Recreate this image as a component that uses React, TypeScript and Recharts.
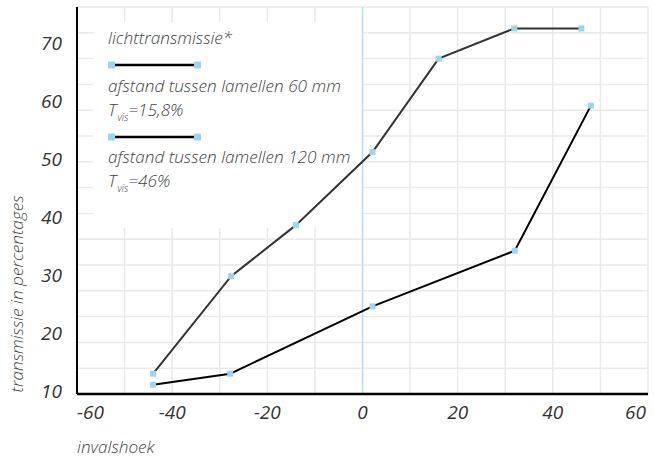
import React from "react";
import {
  CartesianGrid,
  Legend,
  Line,
  LineChart,
  ReferenceArea,
  ReferenceLine,
  XAxis,
  YAxis,
} from "recharts";

// invalshoek (graden) en lichttransmissie (%) per lamelafstand
const angles60 = [-44.0, -27.6, -14.0, 2.1, 16.0, 31.9, 46.0];
const trans60 = [13.5, 30.3, 39.1, 51.7, 67.8, 73.0, 73.0];
const angles120 = [-44.0, -27.8, 2.1, 32.0, 48.0];
const trans120 = [11.6, 13.5, 25.1, 34.7, 59.7];

const xTicks = [-60, -40, -20, 0, 20, 40, 60];
const yTicks = [10, 20, 30, 40, 50, 60, 70];
const xGridTicks = [-60, -50, -40, -30, -20, -10, 0, 10, 20, 30, 40, 50, 60];
const X_MIN = -60;
const X_MAX = 60;
const Y_MIN = 10;
const Y_MAX = 76.7;
const Y_GRID_STEPS = 15;

const legendTitle = "lichttransmissie*";
const seriesNames = ["afstand tussen lamellen 60 mm", "afstand tussen lamellen 120 mm"];
const tvisValues = ["=15,8%", "=46%"];

const xTitle = "invalshoek";
const yTitle = "transmissie in percentages";

const data60 = angles60.map((x, i) => ({ x, y: trans60[i] }));
const data120 = angles120.map((x, i) => ({ x, y: trans120[i] }));

const FONT = "'Open Sans', Lato, sans-serif";
const MARKER = "#9fd3f1";

const SquareDot = (props: any) => {
  const { cx, cy } = props;
  if (cx == null || cy == null) return null;
  return <rect x={cx - 3} y={cy - 3} width={6} height={6} fill={MARKER} />;
};

const tickText = {
  fontFamily: FONT,
  fontStyle: "italic",
  fontWeight: 400,
  fontSize: 19,
  fill: "#333",
};

const XTick = ({ x, y, payload }: any) => {
  const v = payload.value;
  const anchor = v === X_MIN ? "start" : v === X_MAX ? "end" : "middle";
  return (
    <text x={x} y={y + 25} textAnchor={anchor} {...tickText}>
      {v}
    </text>
  );
};

const YTick = ({ x, y, payload }: any) => (
  <text x={x} y={y + 4} textAnchor="end" {...tickText}>
    {payload.value}
  </text>
);

const textProps = {
  fontFamily: FONT,
  fontStyle: "italic",
  fontWeight: 300,
  fontSize: 17.2,
  fill: "#3f3f3f",
};

const Sample = ({ y }: { y: number }) => (
  <g>
    <line x1={111} x2={198} y1={y} y2={y} stroke="#000" strokeWidth={2.5} />
    <rect x={108} y={y - 3.5} width={7} height={7} fill={MARKER} />
    <rect x={194} y={y - 3.5} width={7} height={7} fill={MARKER} />
  </g>
);

const Tvis = ({ y, value }: { y: number; value: string }) => (
  <text x={108} y={y} {...textProps}>
    T
    <tspan dx={1} dy={5} fontSize={10}>
      vis
    </tspan>
    <tspan dy={-5}>{value}</tspan>
  </text>
);

const LegendBox = () => (
  <svg width={360} height={200} style={{ display: "block" }}>
    <text x={108} y={44} {...textProps}>
      {legendTitle}
    </text>
    <Sample y={65} />
    <text x={108} y={92} {...textProps}>
      {seriesNames[0]}
    </text>
    <Tvis y={116} value={tvisValues[0]} />
    <Sample y={137} />
    <text x={108} y={163} {...textProps}>
      {seriesNames[1]}
    </text>
    <Tvis y={187} value={tvisValues[1]} />
  </svg>
);

// grid lines every 10 degrees and 15 equal rows, placed in the plot area
const verticalGrid = ({ offset }: any) =>
  xGridTicks.map((t) => offset.left + (offset.width * (t - X_MIN)) / (X_MAX - X_MIN));

const horizontalGrid = ({ offset }: any) =>
  Array.from({ length: Y_GRID_STEPS + 1 }, (_, i) => offset.top + (offset.height * i) / Y_GRID_STEPS);

export default function App() {
  return (
    <div style={{ position: "absolute", left: 0, top: 0 }}>
      <LineChart width={654} height={459} margin={{ top: 7, right: 6, bottom: 35, left: 0 }}>
        <CartesianGrid
          stroke="#e9e9e9"
          strokeWidth={1.5}
          verticalCoordinatesGenerator={verticalGrid}
          horizontalCoordinatesGenerator={horizontalGrid}
        />
        <ReferenceArea
          x1={-56.6}
          x2={0}
          y1={38.6}
          y2={74.1}
          fill="#fff"
          fillOpacity={1}
          stroke="none"
          ifOverflow="visible"
        />
        <ReferenceLine x={0} stroke="#a9dbf4" strokeWidth={1.2} />
        <XAxis
          dataKey="x"
          type="number"
          domain={[X_MIN, X_MAX]}
          ticks={xTicks}
          tick={<XTick />}
          tickLine={false}
          tickSize={0}
          tickMargin={0}
          height={30}
          axisLine={{ stroke: "#000", strokeWidth: 2.5 }}
          label={{
            content: () => (
              <text x={77} y={453} {...textProps}>
                {xTitle}
              </text>
            ),
          }}
        />
        <YAxis
          type="number"
          domain={[Y_MIN, Y_MAX]}
          ticks={yTicks}
          tick={<YTick />}
          tickLine={false}
          tickSize={0}
          tickMargin={15}
          width={77}
          axisLine={{ stroke: "#000", strokeWidth: 2 }}
          label={{
            content: () => (
              <text
                transform="translate(23, 294) rotate(-90)"
                textAnchor="middle"
                {...textProps}
              >
                {yTitle}
              </text>
            ),
          }}
        />
        <Legend
          layout="vertical"
          align="center"
          verticalAlign="middle"
          wrapperStyle={{ left: 0, top: 0, width: 360, height: 200 }}
          content={() => <LegendBox />}
        />
        <Line
          data={data60}
          dataKey="y"
          name={seriesNames[0]}
          stroke="#333"
          strokeWidth={2}
          dot={<SquareDot />}
          activeDot={false}
          isAnimationActive={false}
        />
        <Line
          data={data120}
          dataKey="y"
          name={seriesNames[1]}
          stroke="#000"
          strokeWidth={2}
          dot={<SquareDot />}
          activeDot={false}
          isAnimationActive={false}
        />
      </LineChart>
    </div>
  );
}
